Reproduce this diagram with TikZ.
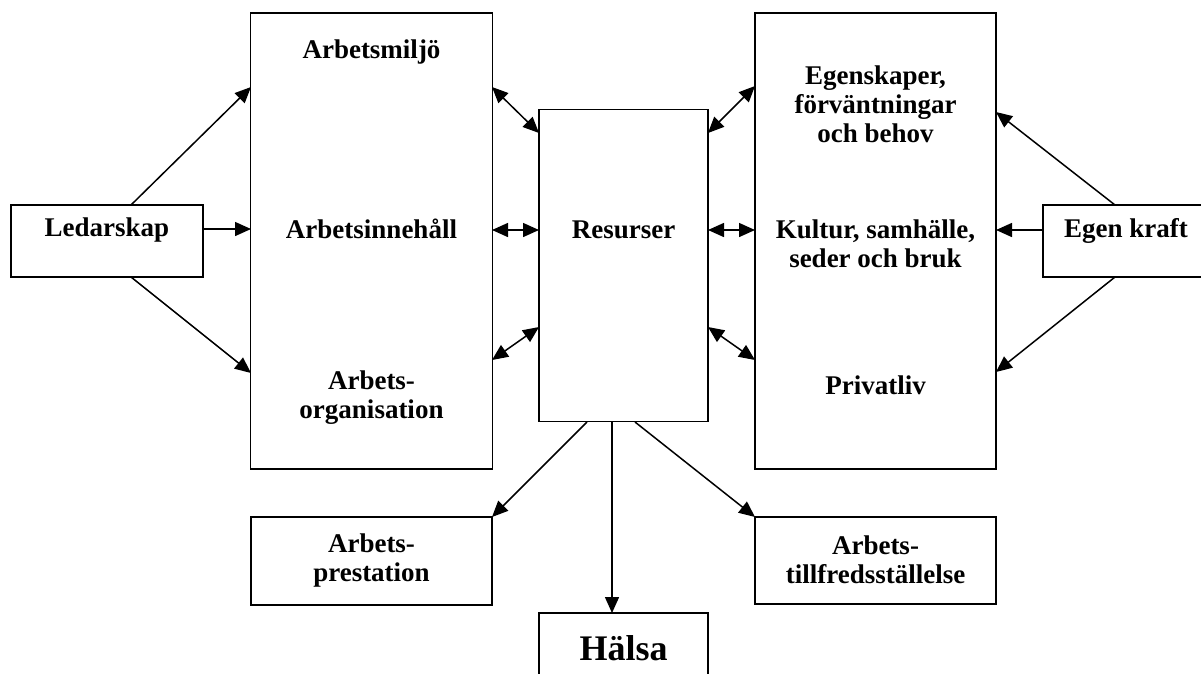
\documentclass[tikz,border=0pt]{standalone}
\usepackage{fontspec}
\setmainfont{Liberation Serif}
\usetikzlibrary{arrows.meta}
\begin{document}
\begin{tikzpicture}[x=1pt,y=-1pt,
  box/.style={draw,line width=1.7pt,rectangle,inner sep=0pt},
  lbl/.style={font=\fontsize{27}{29}\selectfont\bfseries,align=center,inner sep=0pt},
  arr/.style={line width=1.5pt,-{Triangle[length=16pt,width=14pt]}},
  darr/.style={line width=1.5pt,{Triangle[length=16pt,width=14pt]}-{Triangle[length=16pt,width=14pt]}}]
\useasboundingbox (0,0) rectangle (1201,673);
% boxes
\node[box,minimum width=192pt,minimum height=72pt] (led) at (107,241) {};
\node[lbl] (ledt) at (107,230) {Ledarskap};
\node[box,minimum width=242pt,minimum height=456pt] (lbox) at (371.5,241) {};
\node[lbl] (t1) at (371.5,52) {Arbetsmiljö};
\node[lbl] (t2) at (371.5,229) {Arbetsinnehåll};
\node[lbl] (t3) at (371.5,398) {Arbets-\\organisation};
\node[box,minimum width=169pt,minimum height=312pt] (res) at (623.5,265.5) {};
\node[lbl] (rest) at (623.5,230) {Resurser};
\node[box,minimum width=241pt,minimum height=456pt] (rbox) at (875.5,241) {};
\node[lbl] (t4) at (875.5,104) {Egenskaper,\\förväntningar\\och behov};
\node[lbl] (t5) at (875.5,244) {Kultur, samhälle,\\seder och bruk};
\node[lbl] (t6) at (875.5,385) {Privatliv};
\node[box,minimum width=162pt,minimum height=72pt] (ek) at (1124,241) {};
\node[lbl] (ekt) at (1126,231) {Egen kraft};
\node[box,minimum width=241pt,minimum height=88pt] (prest) at (371.5,561) {};
\node[lbl] (prestt) at (371.5,560) {Arbets-\\prestation};
\node[box,minimum width=241pt,minimum height=87pt] (tillf) at (875.5,560.5) {};
\node[lbl] (tillft) at (875.5,560) {Arbets-\\tillfredsställelse};
\node[box,minimum width=169pt,minimum height=80pt] (hal) at (623.5,653) {};
\node[lbl,font=\fontsize{36}{40}\selectfont\bfseries] (halt) at (623.5,648) {Hälsa};
% coordinates on borders
\coordinate (ledT) at (131,205);
\coordinate (ledB) at (131,277);
\coordinate (ledR) at (203,229);
\coordinate (lA) at (251,87);
\coordinate (lB) at (251,229);
\coordinate (lC) at (251,373);
\coordinate (lrA) at (492,87);
\coordinate (lrB) at (492,230);
\coordinate (lrC) at (492,360);
\coordinate (resLA) at (539,133);
\coordinate (resLB) at (539,230);
\coordinate (resLC) at (539,327);
\coordinate (resRA) at (708,133);
\coordinate (resRB) at (708,230);
\coordinate (resRC) at (708,327);
\coordinate (rlA) at (755,86);
\coordinate (rlB) at (755,230);
\coordinate (rlC) at (755,360);
\coordinate (rrA) at (996,112);
\coordinate (rrB) at (996,230);
\coordinate (rrC) at (996,372);
\coordinate (ekT) at (1115,205);
\coordinate (ekL) at (1043,230);
\coordinate (ekB) at (1115,277);
\coordinate (resB1) at (587,422);
\coordinate (resB2) at (612,422);
\coordinate (resB3) at (635,422);
\coordinate (prestC) at (492,517);
\coordinate (halT) at (612,613);
\coordinate (tillfC) at (755,517);
% connectors
\draw[arr] (ledT) -- (lA);
\draw[arr] (ledR) -- (lB);
\draw[arr] (ledB) -- (lC);
\draw[darr] (lrA) -- (resLA);
\draw[darr] (lrB) -- (resLB);
\draw[darr] (lrC) -- (resLC);
\draw[darr] (resRA) -- (rlA);
\draw[darr] (resRB) -- (rlB);
\draw[darr] (resRC) -- (rlC);
\draw[arr] (ekT) -- (rrA);
\draw[arr] (ekL) -- (rrB);
\draw[arr] (ekB) -- (rrC);
\draw[arr] (resB1) -- (prestC);
\draw[arr] (resB2) -- (halT);
\draw[arr] (resB3) -- (tillfC);
\end{tikzpicture}
\end{document}
